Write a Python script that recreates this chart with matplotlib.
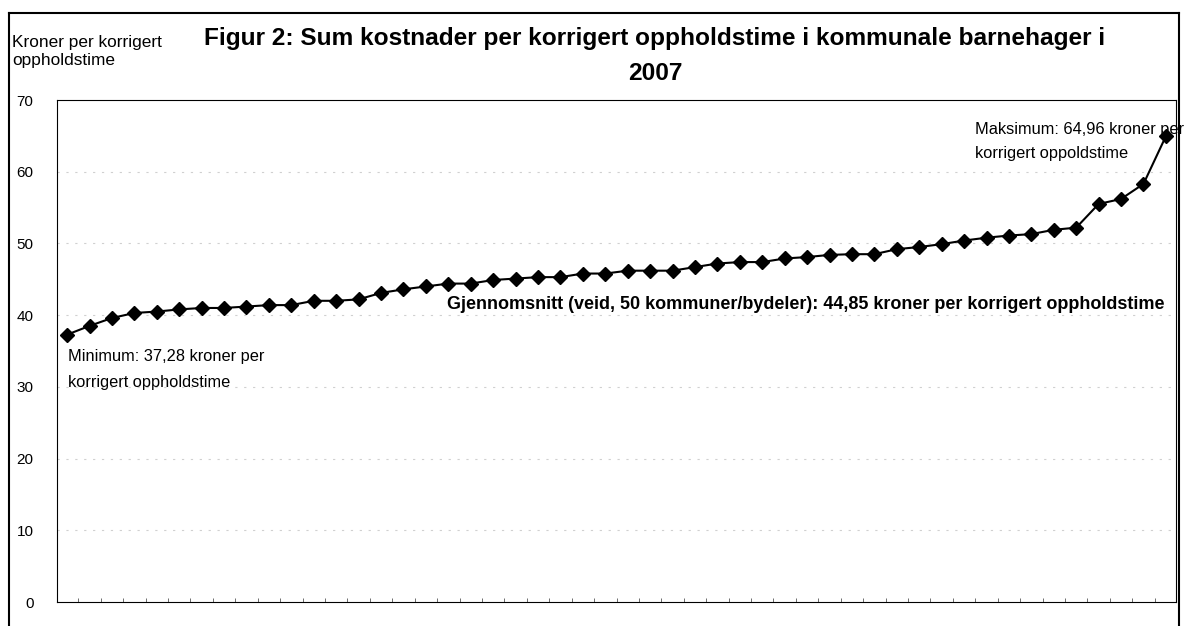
import matplotlib.pyplot as plt
from matplotlib.lines import Line2D

plt.rcParams['font.family'] = ['Liberation Sans', 'DejaVu Sans']

# DATA
kommune_nr = list(range(1, 51))
kostnad = [37.28, 38.5, 39.6, 40.3, 40.5, 40.8, 41.0, 41.0, 41.2, 41.4,
           41.4, 42.0, 42.0, 42.2, 43.1, 43.6, 44.0, 44.4, 44.4, 44.9,
           45.1, 45.3, 45.3, 45.8, 45.8, 46.2, 46.2, 46.2, 46.7, 47.2,
           47.4, 47.4, 47.9, 48.1, 48.4, 48.5, 48.5, 49.2, 49.5, 49.9,
           50.4, 50.8, 51.1, 51.3, 51.9, 52.2, 55.5, 56.2, 58.3, 64.96]
y_ticks = [0, 10, 20, 30, 40, 50, 60, 70]

W, H = 1186, 626
fig = plt.figure(figsize=(W / 100, H / 100), dpi=100)
ax = fig.add_axes([57 / W, 1 - 602 / H, (1176 - 57) / W, (602 - 100) / H])

# faint gridlines
for v in y_ticks[1:-1]:
    ax.axhline(v, color='#d0d0d0', lw=0.8, ls=(0, (2, 6)), zorder=0)

ax.plot(kommune_nr, kostnad, '-', color='black', lw=1.5,
        marker='D', markersize=7.5, markerfacecolor='black',
        markeredgecolor='black', zorder=3)

ax.set_xlim(0.55, 50.45)
ax.set_ylim(0, 70)
ax.set_yticks(y_ticks)
ax.set_xticks([i + 0.5 for i in kommune_nr[:-1]])
ax.set_xticklabels([])
ax.tick_params(axis='x', direction='in', length=3, width=0.6, color='#555555')
ax.tick_params(axis='y', length=0, pad=17, labelsize=11)
for s in ax.spines.values():
    s.set_linewidth(0.8)
    s.set_color('black')

# annotations
ax.text(1.05, 34.2, 'Minimum: 37,28 kroner per', fontsize=11.8, va='center', ha='left')
ax.text(1.05, 30.6, 'korrigert oppholdstime', fontsize=11.8, va='center', ha='left')
ax.text(17.95, 41.55,
        'Gjennomsnitt (veid, 50 kommuner/bydeler): 44,85 kroner per korrigert oppholdstime',
        fontsize=13, fontweight='bold', va='center', ha='left')
ax.text(41.5, 65.9, 'Maksimum: 64,96 kroner per', fontsize=11.8, va='center', ha='left')
ax.text(41.5, 62.5, 'korrigert oppoldstime', fontsize=11.8, va='center', ha='left')

# title and y label
fig.text(655 / W, 1 - 38 / H,
         'Figur 2: Sum kostnader per korrigert oppholdstime i kommunale barnehager i',
         fontsize=17.6, fontweight='bold', ha='center', va='center')
fig.text(655 / W, 1 - 73 / H, '2007', fontsize=17.6, fontweight='bold',
         ha='center', va='center')
fig.text(12 / W, 1 - 42 / H, 'Kroner per korrigert', fontsize=12.4, ha='left', va='center')
fig.text(12 / W, 1 - 60 / H, 'oppholdstime', fontsize=12.4, ha='left', va='center')

# outer frame
fig.add_artist(Line2D([9 / W, 9 / W], [0, 1 - 13 / H], color='black', lw=1.5))
fig.add_artist(Line2D([9 / W, 1179 / W], [1 - 13 / H, 1 - 13 / H], color='black', lw=1.5))
fig.add_artist(Line2D([1179 / W, 1179 / W], [0, 1 - 13 / H], color='black', lw=1.5))

fig.savefig('out.png', dpi=100)
plt.close()
